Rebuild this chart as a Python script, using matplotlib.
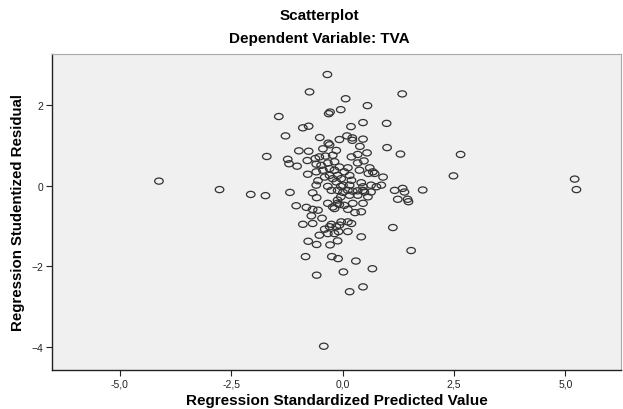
import matplotlib
matplotlib.use('Agg')
import matplotlib.pyplot as plt
from matplotlib.path import Path
from matplotlib.transforms import Affine2D

plt.rcParams['font.family'] = ['Liberation Sans', 'DejaVu Sans']

# Regression standardized predicted value (x) and studentized residual (y)
x_pred = [
    -4.12, -2.76, -2.06, -1.73, -1.70, -1.43, -1.28, -1.18, -1.04, -0.74,
    -0.34, 0.07, 0.56, 1.34, -0.04, -0.28, -0.31, -0.89, -0.76, 0.46,
    0.99, 0.19, -0.51, -0.07, 0.10, 0.22, 0.22, 0.46, -0.32, -0.44,
    0.39, 1.00, -0.98, -0.76, 0.55, 1.30, 0.34, -0.29, -1.23, -1.20,
    -1.02, -0.79, -0.61, -0.52, -0.38, -0.22, -0.14, -0.59, -0.48, -0.33,
    -0.18, -0.78, -0.59, -0.44, -0.29, -0.18, -0.55, -0.40, -0.29, -0.22,
    -0.11, -0.59, -0.33, -0.14, -0.25, -0.67, 0.20, 0.48, 0.34, -0.07,
    0.12, 0.38, 0.61, 0.68, 0.72, 0.58, 0.04, 0.16, 0.91, -0.03,
    0.20, 0.01, 0.16, 0.42, 0.46, 0.64, 0.76, 0.87, 1.17, 1.35,
    1.39, 0.34, 0.49, -0.11, 0.12, -0.58, -0.33, -0.22, -0.18, -0.11,
    -0.81, -0.67, -0.55, -0.70, -0.46, -0.89, -0.67, -0.25, -0.29, -0.14,
    -0.40, -0.33, -0.18, -0.52, -0.09, 0.01, 0.23, 0.46, 0.64, 1.24,
    1.46, 1.48, -0.04, 0.16, 0.34, 0.57, -0.11, 0.04, 0.23, 0.46,
    0.12, 0.28, 0.42, -0.03, 0.12, 0.20, -0.07, 0.12, 1.13, 0.42,
    -0.77, -0.58, -0.28, -0.11, 1.54, -0.83, -0.24, -0.10, 0.30, 0.67,
    -0.58, 0.02, 0.16, 0.46, -0.42, 2.65, 2.49, 5.21, 5.25, 1.80,
    -0.04, -0.07,
]
y_resid = [
    0.11, -0.10, -0.22, -0.25, 0.72, 1.71, 1.23, -0.17, -0.50, 2.32,
    2.75, 2.15, 1.98, 2.27, 1.88, 1.82, 1.78, 1.43, 1.47, 1.56,
    1.54, 1.46, 1.19, 1.14, 1.23, 1.18, 1.12, 1.15, 1.05, 0.91,
    0.97, 0.94, 0.86, 0.85, 0.81, 0.78, 0.77, 1.01, 0.65, 0.54,
    0.48, 0.62, 0.67, 0.71, 0.73, 0.75, 0.87, 0.53, 0.50, 0.56,
    0.59, 0.28, 0.34, 0.38, 0.42, 0.38, 0.12, 0.21, 0.25, 0.17,
    0.25, 0.01, -0.02, 0.09, -0.12, -0.18, 0.71, 0.61, 0.56, 0.46,
    0.44, 0.38, 0.44, 0.34, 0.30, 0.30, 0.34, 0.25, 0.21, 0.17,
    0.13, 0.01, 0.01, 0.07, -0.03, 0.01, -0.03, 0.01, -0.12, -0.07,
    -0.16, -0.13, -0.16, -0.12, -0.12, -0.30, -0.44, -0.53, -0.57, -0.36,
    -0.54, -0.59, -0.61, -0.75, -0.81, -0.96, -0.94, -0.96, -1.02, -1.02,
    -1.08, -1.19, -1.19, -1.23, -1.14, -0.17, -0.14, -0.12, -0.16, -0.34,
    -0.34, -0.40, -0.28, -0.24, -0.24, -0.28, -0.44, -0.49, -0.44, -0.44,
    -0.59, -0.67, -0.65, -0.90, -0.90, -0.94, -0.98, -1.14, -1.04, -1.27,
    -1.38, -1.46, -1.47, -1.37, -1.61, -1.76, -1.76, -1.81, -1.87, -2.06,
    -2.22, -2.14, -2.63, -2.51, -3.98, 0.77, 0.24, 0.16, -0.10, -0.11,
    -0.02, -0.47,
]

x_ticks = [-5.0, -2.5, 0.0, 2.5, 5.0]
x_tick_labels = ['-5,0', '-2,5', '0,0', '2,5', '5,0']
y_ticks = [-4, -2, 0, 2]

# slightly flattened ring like the SPSS marker
ring = Path.unit_circle().transformed(Affine2D().scale(1.0, 0.72))

fig = plt.figure(figsize=(6.23, 4.10), dpi=100, facecolor='white')
ax = fig.add_axes([0.0835, 0.095, 0.914, 0.771])
ax.set_facecolor('#f0f0f0')

ax.scatter(x_pred, y_resid, marker=ring, s=38, facecolors='none',
           edgecolors='#333333', linewidths=0.9, zorder=3)

ax.set_xlim(-6.52, 6.26)
ax.set_ylim(-4.57, 3.26)
ax.set_xticks(x_ticks)
ax.set_xticklabels(x_tick_labels)
ax.set_yticks(y_ticks)
ax.tick_params(direction='out', length=4, width=0.8, labelsize=7.5,
               colors='#222222', pad=2)

for side in ['left', 'bottom']:
    ax.spines[side].set_color('#222222')
    ax.spines[side].set_linewidth(1.0)
for side in ['top', 'right']:
    ax.spines[side].set_color('#a8a8a8')
    ax.spines[side].set_linewidth(0.8)

ax.set_xlabel('Regression Standardized Predicted Value', fontsize=11,
              fontweight='bold', labelpad=3)
ax.set_ylabel('Regression Studentized Residual', fontsize=10.8,
              fontweight='bold', labelpad=5)

fig.text(0.513, 0.962, 'Scatterplot', ha='center', va='center',
         fontsize=11, fontweight='bold')
fig.text(0.513, 0.906, 'Dependent Variable: TVA', ha='center', va='center',
         fontsize=11, fontweight='bold')

fig.savefig('out.png', dpi=100, facecolor=fig.get_facecolor())
